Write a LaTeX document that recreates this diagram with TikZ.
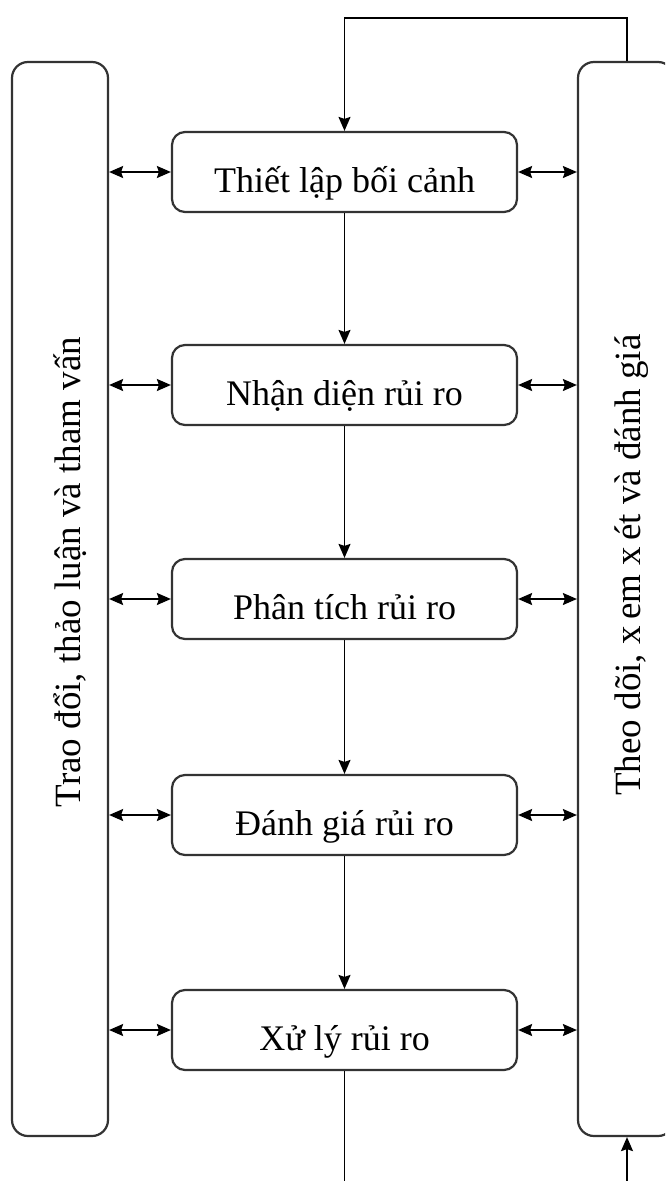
\documentclass[tikz,border=0pt]{standalone}
\usepackage{fontspec}
\setmainfont{Liberation Serif}
\usetikzlibrary{arrows.meta}
\begin{document}
\begin{tikzpicture}[x=1pt,y=-1pt,
  stepbox/.style={draw=black!80, line width=2.2pt, rounded corners=13pt, minimum width=345pt, minimum height=80pt, font=\fontsize{36}{40}\selectfont, inner sep=0pt, text height=44pt, text depth=4pt},
  sidebox/.style={draw=black!80, line width=2.2pt, rounded corners=16pt, rotate=90, inner sep=0pt},
  sidetext/.style={rotate=90, font=\fontsize{37}{40}\selectfont, inner sep=0pt, anchor=base},
  tip/.style={Stealth[length=14pt,width=12pt,inset=2pt]},
  flow/.style={line width=1.6pt, -{Stealth[length=14pt,width=12pt,inset=2pt]}},
  plain/.style={line width=1.6pt},
  both/.style={line width=1.6pt, {Stealth[length=14pt,width=12pt,inset=2pt]}-{Stealth[length=14pt,width=12pt,inset=2pt]}}]
\useasboundingbox (0,0) rectangle (665,1181);
\clip (0,0) rectangle (665,1181);
\fill[white] (0,0) rectangle (665,1181);

\node[sidebox, minimum width=1074pt, minimum height=96pt] (L) at (60,599) {};
\node[sidebox, minimum width=1074pt, minimum height=96pt] (R) at (626,599) {};
\node[sidetext] (Lt) at (80,572) {Trao đổi, thảo luận và tham vấn};
\node[sidetext] (Rt) at (640,565) {Theo dõi, x\,em x\,ét và đánh giá};

\node[stepbox] (s1) at (344.5,172) {Thiết lập bối cảnh};
\node[stepbox] (s2) at (344.5,385) {Nhận diện rủi ro};
\node[stepbox] (s3) at (344.5,599) {Phân tích rủi ro};
\node[stepbox] (s4) at (344.5,815) {Đánh giá rủi ro};
\node[stepbox] (s5) at (344.5,1030) {Xử lý rủi ro};

\foreach \s in {s1,s2,s3,s4,s5}{
  \draw[both] (L.south |- \s.west) -- (\s.west);
  \draw[both] (\s.east) -- (R.north |- \s.east);
}
\draw[flow] (s1) -- (s2);
\draw[flow] (s2) -- (s3);
\draw[flow] (s3) -- (s4);
\draw[flow] (s4) -- (s5);

\coordinate (top) at (627,18);
\draw[flow] (R.east -| top) -- (top) -| (s1.north);
\coordinate (bl) at (344.5,1190);
\draw[plain] (s5.south) -- (s5.south |- bl);
\coordinate (br) at (627,1190);
\draw[flow] (br) -- (R.west -| br);
\end{tikzpicture}
\end{document}
